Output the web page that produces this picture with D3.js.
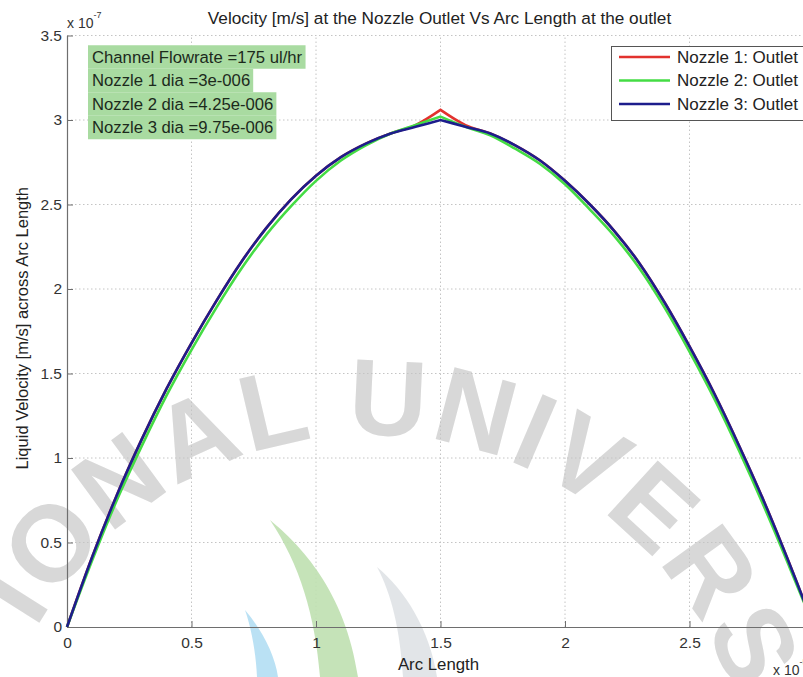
<!DOCTYPE html>
<html>
<head>
<meta charset="utf-8">
<script src="https://cdn.jsdelivr.net/npm/d3@7/dist/d3.min.js"></script>
<style>
  html, body { margin: 0; padding: 0; background: #fff; overflow: hidden; }
  svg { display: block; }
  text { font-family: "Liberation Sans", Arial, Helvetica, sans-serif; }
</style>
</head>
<body>
<svg id="chart" width="803" height="677"></svg>
<script>
// Arc length along the outlet (x 10^-5) and outlet velocity (x 10^-7 m/s)
const arcLength = [0, 0.1, 0.2, 0.3, 0.4, 0.5, 0.6, 0.7, 0.8, 0.9, 1.0,
                   1.1, 1.2, 1.3, 1.4, 1.5, 1.6, 1.7, 1.8, 1.9, 2.0,
                   2.1, 2.2, 2.3, 2.4, 2.5, 2.6, 2.7, 2.8, 2.9, 3.0];
const nozzle1 = [0, 0.41, 0.78, 1.11, 1.41, 1.68, 1.93, 2.16, 2.36, 2.53, 2.67,
                 2.78, 2.86, 2.92, 2.97, 3.06, 2.97, 2.92, 2.85, 2.76, 2.64,
                 2.50, 2.34, 2.15, 1.92, 1.66, 1.38, 1.07, 0.74, 0.38, 0.00];
const nozzle2 = [0, 0.39, 0.75, 1.07, 1.37, 1.64, 1.89, 2.12, 2.32, 2.49, 2.64,
                 2.76, 2.85, 2.92, 2.97, 3.02, 2.96, 2.91, 2.83, 2.74, 2.62,
                 2.47, 2.31, 2.12, 1.89, 1.63, 1.35, 1.04, 0.71, 0.36, 0.00];
const nozzle3 = [0, 0.41, 0.78, 1.11, 1.41, 1.68, 1.93, 2.16, 2.36, 2.53, 2.67,
                 2.78, 2.86, 2.92, 2.96, 3.00, 2.96, 2.92, 2.85, 2.76, 2.64,
                 2.50, 2.34, 2.15, 1.92, 1.66, 1.38, 1.07, 0.74, 0.38, 0.00];

const seriesNames  = ["Nozzle 1: Outlet", "Nozzle 2: Outlet", "Nozzle 3: Outlet"];
const seriesValues = [nozzle1, nozzle2, nozzle3];
const seriesColors = ["#e2322e", "#44dc44", "#1d1d8c"];

const xTicks = [0, 0.5, 1, 1.5, 2, 2.5, 3];
const yTicks = [0, 0.5, 1, 1.5, 2, 2.5, 3, 3.5];
const xTickLabels = ["0", "0.5", "1", "1.5", "2", "2.5", "3"];
const yTickLabels = ["0", "0.5", "1", "1.5", "2", "2.5", "3", "3.5"];

const notes = ["Channel Flowrate =175 ul/hr", "Nozzle 1 dia =3e-006",
               "Nozzle 2 dia =4.25e-006", "Nozzle 3 dia =9.75e-006"];
const titleText  = "Velocity [m/s] at the Nozzle Outlet Vs Arc Length at the outlet";
const xLabelText = "Arc Length";
const yLabelText = "Liquid Velocity [m/s] across Arc Length";
const watermarkText = "IONAL UNIVERS";

const svg = d3.select("#chart");
const plot = { left: 67, top: 35.5, right: 814, bottom: 627 };

const x = d3.scaleLinear().domain([0, 3]).range([plot.left, plot.right]);
const y = d3.scaleLinear().domain([0, 3.5]).range([plot.bottom, plot.top]);

// dotted grid
const grid = svg.append("g").attr("stroke", "#c4c4c4").attr("stroke-width", 1)
  .attr("stroke-dasharray", "1.5,2.5");
grid.selectAll("line.v").data(xTicks.slice(1)).join("line")
  .attr("x1", d => x(d)).attr("x2", d => x(d))
  .attr("y1", y(0)).attr("y2", y(3.5));
grid.selectAll("line.h").data(yTicks.slice(1)).join("line")
  .attr("x1", x(0)).attr("x2", x(3))
  .attr("y1", d => y(d)).attr("y2", d => y(d));

// faint background mark: circular lettering and leaf emblem
const wm = svg.append("g").attr("pointer-events", "none");
const wc = { cx: 370, cy: 820, r: 385 };
wm.append("path").attr("id", "wmArc").attr("fill", "none")
  .attr("d", `M${wc.cx - wc.r},${wc.cy} A${wc.r},${wc.r} 0 0 1 ${wc.cx + wc.r},${wc.cy}`);
wm.append("text")
  .attr("font-size", 108).attr("font-weight", "bold")
  .attr("fill", "#c4c4c4").attr("fill-opacity", 0.66)
  .attr("letter-spacing", 3)
  .append("textPath").attr("href", "#wmArc").attr("startOffset", 200)
  .text(watermarkText);
wm.append("path").attr("fill", "#bfe0b0").attr("fill-opacity", 0.9)
  .attr("d", "M270,520 C300,545 345,590 358,677 L320,677 C315,615 300,565 270,520 Z");
wm.append("path").attr("fill", "#b3def3").attr("fill-opacity", 0.9)
  .attr("d", "M245,610 C262,630 275,655 278,677 L257,677 C256,655 252,630 245,610 Z");
wm.append("path").attr("fill", "#dfe2e6").attr("fill-opacity", 0.9)
  .attr("d", "M377,567 C405,590 430,630 437,677 L403,677 C400,630 392,595 377,567 Z");

// axes with inward ticks
const yAxis = d3.axisLeft(y).tickValues(yTicks)
  .tickFormat((d, i) => yTickLabels[i]).tickSizeInner(-6).tickSizeOuter(0).tickPadding(5);
const xAxis = d3.axisBottom(x).tickValues(xTicks)
  .tickFormat((d, i) => xTickLabels[i]).tickSizeInner(-6).tickSizeOuter(0).tickPadding(10);

const gy = svg.append("g").attr("transform", `translate(${plot.left},0)`).call(yAxis);
const gx = svg.append("g").attr("transform", `translate(0,${plot.bottom})`).call(xAxis);
[gx, gy].forEach(g => {
  g.select(".domain").attr("stroke", "#6e6e6e").attr("stroke-width", 1.2);
  g.selectAll(".tick line").attr("stroke", "#6e6e6e");
  g.selectAll(".tick text").attr("fill", "#333").attr("font-size", 15.5)
    .style("font-family", '"Liberation Sans", Arial, sans-serif');
});

// velocity profiles: smooth on each side of the outlet peak, with a sharp apex
const sideLine = d3.line().x(d => x(d[0])).y(d => y(d[1])).curve(d3.curveMonotoneX);
function profilePath(vals) {
  const pts = vals.map((v, i) => [arcLength[i], v]);
  const k = d3.maxIndex(vals);
  const left = sideLine(pts.slice(0, k + 1));
  const right = sideLine(pts.slice(k));
  return left + "L" + right.slice(1);
}
svg.append("g").selectAll("path").data(seriesValues).join("path")
  .attr("d", d => profilePath(d)).attr("fill", "none")
  .attr("stroke", (d, i) => seriesColors[i]).attr("stroke-width", 2.6)
  .attr("stroke-linejoin", "miter");

// exponent labels
const yExp = svg.append("text").attr("x", 67).attr("y", 28).attr("font-size", 14).attr("fill", "#333");
yExp.append("tspan").text("x 10");
yExp.append("tspan").attr("font-size", 9).attr("dy", -10).text("-7");
const xExp = svg.append("text").attr("x", 773).attr("y", 675).attr("font-size", 14).attr("fill", "#333");
xExp.append("tspan").text("x 10");
xExp.append("tspan").attr("font-size", 9).attr("dy", -10).text("-5");

// title and axis labels
svg.append("text").attr("x", (plot.left + plot.right) / 2 - 1).attr("y", 18)
  .attr("text-anchor", "middle").attr("dominant-baseline", "central")
  .attr("font-size", 17.2).attr("fill", "#222").text(titleText);
svg.append("text").attr("x", (plot.left + plot.right) / 2 - 2).attr("y", 664)
  .attr("text-anchor", "middle").attr("dominant-baseline", "central")
  .attr("font-size", 16.8).attr("fill", "#222").text(xLabelText);
svg.append("text").attr("transform", `translate(22,${(plot.top + plot.bottom) / 2 - 3}) rotate(-90)`)
  .attr("text-anchor", "middle").attr("dominant-baseline", "central")
  .attr("font-size", 16.5).attr("fill", "#222").text(yLabelText);

// annotation block with per-line highlight
const noteG = svg.append("g");
notes.forEach((t, i) => {
  const cy = 57 + i * 23.5;
  const row = noteG.append("g");
  const rect = row.append("rect").attr("fill", "#a9dba1");
  const txt = row.append("text").attr("x", 92).attr("y", cy)
    .attr("dominant-baseline", "central").attr("font-size", 16.7)
    .attr("fill", "#1c2a1c").text(t);
  const w = txt.node().getBBox().width;
  rect.attr("x", 88).attr("y", cy - 11.75).attr("width", w + 7).attr("height", 23.5);
});

// legend
const lg = svg.append("g");
lg.append("rect").attr("x", 611.5).attr("y", 46.5).attr("width", 205).attr("height", 74)
  .attr("fill", "#fff").attr("stroke", "#555").attr("stroke-width", 1);
seriesNames.forEach((name, i) => {
  const cy = 57 + i * 23.5;
  lg.append("line").attr("x1", 619).attr("x2", 670).attr("y1", cy).attr("y2", cy)
    .attr("stroke", seriesColors[i]).attr("stroke-width", 2.6);
  lg.append("text").attr("x", 677).attr("y", cy).attr("dominant-baseline", "central")
    .attr("font-size", 17).attr("fill", "#222").text(name);
});
</script>
</body>
</html>
